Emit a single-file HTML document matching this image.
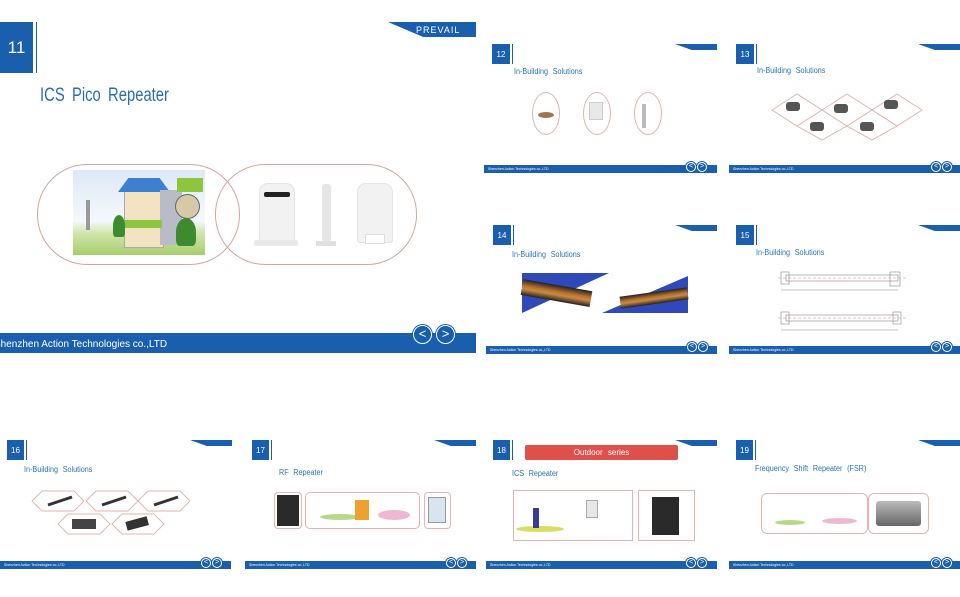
<!DOCTYPE html>
<html><head><meta charset="utf-8"><style>
*{margin:0;padding:0;box-sizing:border-box}
body{width:960px;height:597px;background:#fff;position:relative;overflow:hidden;font-family:"Liberation Sans",sans-serif}
.a{position:absolute}
.num{position:absolute;background:#1a5fae;color:#fff;font-size:8px;display:flex;align-items:center;justify-content:center;border-right:2px solid #fff;box-shadow:1px 0 0 #1a5fae}
.ttl{position:absolute;color:#2a74b8;font-size:8px;white-space:nowrap;word-spacing:3px;transform:scaleX(.9);transform-origin:left}
.ft{position:absolute;background:#1a5fae;height:8px;color:#fff;font-size:3.5px;line-height:8px;padding-left:4px;white-space:nowrap}
.c{position:absolute;width:10px;height:10px;border-radius:50%;background:#1a5fae;border:1px solid #fff;box-shadow:0 0 0 1px #1a5fae;color:#fff;font-size:7px;line-height:8px;text-align:center}
.lg{position:absolute;height:6px;width:42px;background:#1a5fae;clip-path:polygon(0 0,100% 0,100% 100%,40% 100%)}
.pk{position:absolute;border:1px solid #e5b3b3}
</style></head><body>

<!-- Slide 11 big -->
<div class="num" style="left:0;top:22px;width:36px;height:51px;font-size:17px;border-right:3px solid #fff">11</div>
<div class="a" style="left:388px;top:22px;width:88px;height:15px;background:#1a5fae;clip-path:polygon(0 0,100% 0,100% 100%,40% 100%)"></div>
<div class="a" style="left:416px;top:25px;color:#fff;font-size:9px;letter-spacing:1px">PREVAIL</div>
<div class="a" style="left:40px;top:85px;color:#2a6db5;font-size:19px;word-spacing:4px;transform:scaleX(.78);transform-origin:left;white-space:nowrap">ICS Pico Repeater</div>
<div class="a" style="left:37px;top:164px;width:203px;height:101px;border:1px solid #d9a3a3;border-radius:50px"></div>
<div class="a" style="left:215px;top:164px;width:202px;height:101px;border:1px solid #d9a3a3;border-radius:50px"></div>
<div class="a" style="left:73px;top:170px;width:132px;height:85px;background:linear-gradient(#dde9f7,#f4f8fb 60%,#cfe4a8 75%,#a7cf6e)"></div>
<div class="a" style="left:124px;top:190px;width:40px;height:58px;background:#f3e3c3;border:1px solid #aaa"></div>
<div class="a" style="left:118px;top:178px;width:52px;height:14px;background:#3f7fd0;clip-path:polygon(20% 0,80% 0,100% 100%,0 100%)"></div>
<div class="a" style="left:160px;top:190px;width:22px;height:55px;background:#b9bbc6"></div>
<div class="a" style="left:177px;top:178px;width:26px;height:14px;background:#8cc63f"></div>
<div class="a" style="left:124px;top:220px;width:38px;height:8px;background:#8cc63f"></div>
<div class="a" style="left:175px;top:194px;width:25px;height:25px;border-radius:50%;background:#d7c8a8;border:1px solid #666"></div>
<div class="a" style="left:113px;top:215px;width:12px;height:22px;background:#3d8b2e;border-radius:50% 50% 20% 20%"></div>
<div class="a" style="left:176px;top:218px;width:20px;height:28px;background:#3d8b2e;border-radius:50% 50% 20% 20%"></div>
<div class="a" style="left:86px;top:200px;width:4px;height:30px;background:#999"></div>
<!-- devices -->
<div class="a" style="left:259px;top:183px;width:36px;height:58px;background:#f2f2f2;border:1px solid #e3e3e3;border-radius:9px 9px 3px 3px"></div>
<div class="a" style="left:264px;top:192px;width:26px;height:5px;background:#222;border-radius:2px"></div>
<div class="a" style="left:254px;top:240px;width:44px;height:6px;background:#e8e8e8;border-radius:2px"></div>
<div class="a" style="left:322px;top:184px;width:9px;height:58px;background:#e6e6e6;border-radius:3px"></div>
<div class="a" style="left:316px;top:241px;width:20px;height:5px;background:#e0e0e0"></div>
<div class="a" style="left:357px;top:183px;width:36px;height:60px;background:#f2f2f2;border:1px solid #e3e3e3;border-radius:9px 9px 3px 3px"></div>
<div class="a" style="left:365px;top:234px;width:20px;height:10px;background:#fff;border:1px solid #ddd"></div>
<div class="ft" style="left:0;top:333px;width:476px;height:20px;font-size:10px;line-height:24px;padding-left:0;text-indent:-6px">Shenzhen Action Technologies co.,LTD</div>
<div class="c" style="left:413px;top:325px;width:19px;height:19px;font-size:13px;line-height:16px">&lt;</div>
<div class="c" style="left:436px;top:325px;width:19px;height:19px;font-size:13px;line-height:16px">&gt;</div>

<!-- Slide 12 -->
<div class="num" style="left:492px;top:44px;width:20px;height:20px">12</div>
<div class="lg" style="left:675px;top:44px"></div>
<div class="ttl" style="left:514px;top:67px">In-Building Solutions</div>
<div class="pk" style="left:532px;top:92px;width:28px;height:43px;border-radius:50%"></div>
<div class="pk" style="left:583px;top:92px;width:28px;height:43px;border-radius:50%"></div>
<div class="pk" style="left:634px;top:92px;width:28px;height:43px;border-radius:50%"></div>
<div class="a" style="left:538px;top:112px;width:16px;height:6px;background:#a07850;border-radius:50%"></div>
<div class="a" style="left:589px;top:102px;width:14px;height:18px;background:#e8e8e8;border:1px solid #ccc"></div>
<div class="a" style="left:642px;top:104px;width:4px;height:24px;background:#bbb"></div>
<div class="ft" style="left:484px;top:165px;width:233px">Shenzhen Action Technologies co.,LTD</div>
<div class="c" style="left:686px;top:162px">&lt;</div><div class="c" style="left:697px;top:162px">&gt;</div>

<!-- Slide 13 -->
<div class="num" style="left:736px;top:44px;width:20px;height:20px">13</div>
<div class="lg" style="left:918px;top:44px"></div>
<div class="ttl" style="left:757px;top:66px">In-Building Solutions</div>
<svg class="a" style="left:770px;top:92px" width="175" height="50"><g fill="none" stroke="#e5b3b3"><path d="M22 20 L47 4 L72 20 L47 36Z M72 20 L97 4 L122 20 L97 36Z M122 20 L147 4 L172 20 L147 36Z M47 36 L72 20 L97 36 L72 50Z M97 36 L122 20 L147 36 L122 50Z" transform="translate(-20,-2)"/></g>
<g fill="#555"><rect x="16" y="10" width="14" height="9" rx="3"/><rect x="64" y="12" width="14" height="9" rx="3"/><rect x="114" y="8" width="14" height="9" rx="3"/><rect x="40" y="30" width="14" height="9" rx="3"/><rect x="90" y="30" width="14" height="9" rx="3"/></g></svg>
<div class="ft" style="left:729px;top:165px;width:231px">Shenzhen Action Technologies co.,LTD</div>
<div class="c" style="left:931px;top:162px">&lt;</div><div class="c" style="left:942px;top:162px">&gt;</div>

<!-- Slide 14 -->
<div class="num" style="left:493px;top:225px;width:20px;height:20px">14</div>
<div class="lg" style="left:675px;top:225px"></div>
<div class="ttl" style="left:512px;top:250px">In-Building Solutions</div>
<div class="a" style="left:522px;top:273px;width:166px;height:40px;background:#fff"></div>
<div class="a" style="left:522px;top:273px;width:87px;height:40px;background:#2f49b8;clip-path:polygon(0 0,100% 0,0 100%)"></div>
<div class="a" style="left:602px;top:276px;width:86px;height:37px;background:#2f49b8;clip-path:polygon(100% 0,100% 100%,0 100%)"></div>
<div class="a" style="left:522px;top:279px;width:70px;height:16px;background:linear-gradient(#222,#b8722e 40%,#c98a44 60%,#222);transform:rotate(10deg);transform-origin:left"></div>
<div class="a" style="left:620px;top:292px;width:68px;height:12px;background:linear-gradient(#222,#b8722e 40%,#c98a44 60%,#222);transform:rotate(-8deg)"></div>
<div class="ft" style="left:486px;top:346px;width:231px">Shenzhen Action Technologies co.,LTD</div>
<div class="c" style="left:687px;top:342px">&lt;</div><div class="c" style="left:698px;top:342px">&gt;</div>

<!-- Slide 15 -->
<div class="num" style="left:736px;top:225px;width:20px;height:20px">15</div>
<div class="lg" style="left:918px;top:225px"></div>
<div class="ttl" style="left:756px;top:248px">In-Building Solutions</div>
<svg class="a" style="left:778px;top:262px" width="130" height="72"><g stroke="#888" fill="none" stroke-width=".6"><rect x="8" y="13" width="112" height="6"/><rect x="3" y="10" width="8" height="12"/><rect x="112" y="10" width="10" height="14"/><line x1="3" y1="28" x2="120" y2="28"/><rect x="8" y="53" width="112" height="6"/><rect x="3" y="50" width="8" height="12"/><rect x="115" y="50" width="8" height="12"/><line x1="3" y1="68" x2="120" y2="68"/></g><g stroke="#e58080" stroke-dasharray="3 2" stroke-width=".6"><line x1="0" y1="16" x2="128" y2="16"/><line x1="0" y1="56" x2="128" y2="56"/></g></svg>
<div class="ft" style="left:729px;top:346px;width:231px">Shenzhen Action Technologies co.,LTD</div>
<div class="c" style="left:931px;top:342px">&lt;</div><div class="c" style="left:942px;top:342px">&gt;</div>

<!-- Slide 16 -->
<div class="num" style="left:7px;top:440px;width:19px;height:20px">16</div>
<div class="lg" style="left:190px;top:440px"></div>
<div class="ttl" style="left:24px;top:465px">In-Building Solutions</div>
<svg class="a" style="left:30px;top:490px" width="170" height="50"><g fill="none" stroke="#e5b3b3"><path d="M2 11 L12 1 L44 1 L54 11 L44 21 L12 21Z M56 11 L66 1 L98 1 L108 11 L98 21 L66 21Z M108 11 L118 1 L150 1 L160 11 L150 21 L118 21Z M28 34 L38 24 L70 24 L80 34 L70 44 L38 44Z M82 34 L92 24 L124 24 L134 34 L124 44 L92 44Z"/></g><g stroke="#333" stroke-width="3"><line x1="18" y1="15" x2="42" y2="7"/><line x1="72" y1="15" x2="96" y2="7"/><line x1="124" y1="15" x2="148" y2="7"/></g><rect x="42" y="29" width="24" height="10" fill="#444"/><rect x="96" y="29" width="22" height="9" fill="#333" transform="rotate(-15 107 33)"/></svg>
<div class="ft" style="left:0;top:561px;width:231px">Shenzhen Action Technologies co.,LTD</div>
<div class="c" style="left:201px;top:558px">&lt;</div><div class="c" style="left:212px;top:558px">&gt;</div>

<!-- Slide 17 -->
<div class="num" style="left:252px;top:440px;width:19px;height:20px">17</div>
<div class="lg" style="left:434px;top:440px"></div>
<div class="ttl" style="left:279px;top:468px">RF Repeater</div>
<div class="pk" style="left:274px;top:492px;width:28px;height:37px;border-radius:4px"></div>
<div class="a" style="left:277px;top:495px;width:22px;height:31px;background:#2a2a2a"></div>
<div class="pk" style="left:305px;top:492px;width:115px;height:37px;border-radius:5px"></div>
<div class="a" style="left:320px;top:514px;width:40px;height:6px;background:#b7d88a;border-radius:50%"></div>
<div class="a" style="left:355px;top:500px;width:14px;height:20px;background:#f0a030"></div>
<div class="a" style="left:378px;top:510px;width:32px;height:10px;background:#f0b8d0;border-radius:50%"></div>
<div class="pk" style="left:424px;top:492px;width:27px;height:37px;border-radius:4px"></div>
<div class="a" style="left:428px;top:497px;width:18px;height:26px;background:#d8e4f0;border:1px solid #999"></div>
<div class="ft" style="left:245px;top:561px;width:231px">Shenzhen Action Technologies co.,LTD</div>
<div class="c" style="left:446px;top:558px">&lt;</div><div class="c" style="left:457px;top:558px">&gt;</div>

<!-- Slide 18 -->
<div class="num" style="left:493px;top:440px;width:19px;height:20px">18</div>
<div class="lg" style="left:675px;top:440px"></div>
<div class="a" style="left:525px;top:445px;width:153px;height:15px;background:#e0504a;border-radius:2px;color:#fff;font-size:8px;text-align:center;line-height:15px;word-spacing:3px">Outdoor series</div>
<div class="ttl" style="left:512px;top:469px">ICS Repeater</div>
<div class="pk" style="left:513px;top:490px;width:120px;height:51px"></div>
<div class="a" style="left:516px;top:526px;width:48px;height:6px;background:#d8df60;border-radius:50%"></div>
<div class="a" style="left:533px;top:508px;width:6px;height:20px;background:#3a3a9a"></div>
<div class="a" style="left:586px;top:500px;width:12px;height:18px;background:#e8e8e8;border:1px solid #aaa"></div>
<div class="pk" style="left:638px;top:490px;width:57px;height:51px"></div>
<div class="a" style="left:652px;top:497px;width:27px;height:38px;background:#2a2a2a"></div>
<div class="ft" style="left:486px;top:561px;width:231px">Shenzhen Action Technologies co.,LTD</div>
<div class="c" style="left:686px;top:558px">&lt;</div><div class="c" style="left:697px;top:558px">&gt;</div>

<!-- Slide 19 -->
<div class="num" style="left:736px;top:440px;width:19px;height:20px">19</div>
<div class="lg" style="left:918px;top:440px"></div>
<div class="ttl" style="left:755px;top:464px">Frequency Shift Repeater (FSR)</div>
<div class="pk" style="left:761px;top:493px;width:107px;height:41px;border-radius:6px"></div>
<div class="a" style="left:775px;top:520px;width:30px;height:5px;background:#b7d88a;border-radius:50%"></div>
<div class="a" style="left:822px;top:518px;width:35px;height:6px;background:#f0b8d0;border-radius:50%"></div>
<div class="pk" style="left:868px;top:493px;width:61px;height:41px;border-radius:6px"></div>
<div class="a" style="left:876px;top:501px;width:45px;height:25px;background:linear-gradient(#bbb,#666);border-radius:3px"></div>
<div class="ft" style="left:729px;top:561px;width:231px">Shenzhen Action Technologies co.,LTD</div>
<div class="c" style="left:931px;top:558px">&lt;</div><div class="c" style="left:942px;top:558px">&gt;</div>
</body></html>
